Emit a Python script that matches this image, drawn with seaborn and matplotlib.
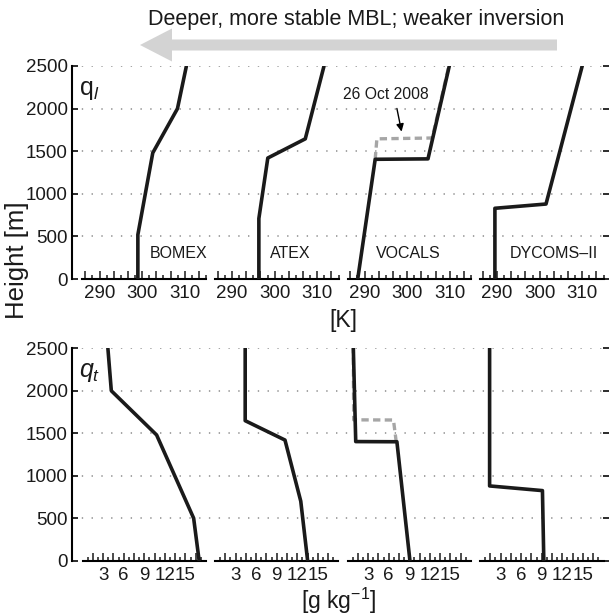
import numpy as np
import pandas as pd
import matplotlib
matplotlib.use("Agg")
import matplotlib.pyplot as plt
import seaborn as sns
from matplotlib.patches import FancyArrow
from matplotlib.ticker import FixedLocator, FuncFormatter

# ---------------- data ----------------
cases = ["BOMEX", "ATEX", "VOCALS", "DYCOMS\u2013II"]
height_ticks = [0, 500, 1000, 1500, 2000, 2500]
thl_ticks = [290, 300, 310]
qt_ticks = [3, 6, 9, 12, 15]

# liquid-water potential temperature profiles [K]
bomex_thl_z = [0, 520, 1480, 2000, 2500]
bomex_thl = [299.0, 299.0, 302.5, 308.3, 310.4]
atex_thl_z = [0, 710, 1420, 1645, 2500]
atex_thl = [296.3, 296.3, 298.4, 307.2, 311.6]
vocals_thl_z = [0, 1405, 1410, 2500]
vocals_thl = [288.4, 292.5, 304.9, 309.9]
vocals_oct_thl_z = [1405, 1645, 1655, 2500]
vocals_oct_thl = [292.5, 292.9, 305.9, 309.8]
dycoms_thl_z = [0, 830, 880, 2500]
dycoms_thl = [289.5, 289.5, 301.5, 310.0]

# total water profiles [g/kg]
bomex_qt_z = [0, 500, 1480, 2000, 2500]
bomex_qt = [17.0, 16.2, 10.8, 4.2, 3.7]
atex_qt_z = [0, 700, 1420, 1648, 2500]
atex_qt = [13.5, 12.5, 10.2, 4.4, 4.4]
vocals_qt_z = [0, 1400, 1402, 2500]
vocals_qt = [9.1, 7.2, 1.2, 0.85]
vocals_oct_qt_z = [1400, 1656, 1658, 2500]
vocals_oct_qt = [7.1, 6.7, 0.9, 0.85]
dycoms_qt_z = [0, 825, 880, 2500]
dycoms_qt = [9.3, 9.1, 1.4, 1.4]

thl_profiles = [(bomex_thl, bomex_thl_z), (atex_thl, atex_thl_z),
                (vocals_thl, vocals_thl_z), (dycoms_thl, dycoms_thl_z)]
qt_profiles = [(bomex_qt, bomex_qt_z), (atex_qt, atex_qt_z),
               (vocals_qt, vocals_qt_z), (dycoms_qt, dycoms_qt_z)]

# ---------------- style ----------------
sns.set_style("white")
plt.rcParams["font.family"] = ["Liberation Sans", "DejaVu Sans"]
plt.rcParams["mathtext.fontset"] = "custom"
plt.rcParams["mathtext.rm"] = "Liberation Sans"
plt.rcParams["mathtext.it"] = "Liberation Sans:italic"

W, H = 611, 615
fig = plt.figure(figsize=(W / 100, H / 100), dpi=100)


def fx(px):
    return px / W


def fy(py):
    return 1 - py / H


panel_left = [82.5, 215, 347.5, 480]
panel_w = 123.5
rows = [(66, 279), (348.3, 560.7)]  # top px, bottom px
grid_color = "#8c8c8c"
tick_fs = 13.5


def background(top, bottom):
    ax = fig.add_axes([fx(72), fy(bottom), fx(609) - fx(72), fy(top) - fy(bottom)])
    ax.set_facecolor("none")
    ax.set_ylim(0, 2500)
    ax.set_xlim(0, 1)
    ax.set_yticks(height_ticks)
    ax.set_xticks([])
    for s in ["top", "bottom", "right"]:
        ax.spines[s].set_visible(False)
    ax.spines["left"].set_linewidth(1.5)
    ax.spines["left"].set_color("k")
    ax.tick_params(axis="y", which="both", direction="in", length=4, width=1.3,
                   labelsize=tick_fs, pad=3, right=True, left=True, colors="#1a1a1a")
    for h in height_ticks[1:]:
        ax.axhline(h, color=grid_color, lw=1.1, ls=(0, (0.9, 5.5)), zorder=0)
    return ax


def panel(left, top, bottom, xlim, majors, minors, labels):
    ax = fig.add_axes([fx(left), fy(bottom), panel_w / W, fy(top) - fy(bottom)])
    ax.set_facecolor("none")
    ax.set_xlim(*xlim)
    ax.set_ylim(0, 2500)
    for s in ["top", "left", "right"]:
        ax.spines[s].set_visible(False)
    ax.spines["bottom"].set_linewidth(1.5)
    ax.spines["bottom"].set_color("k")
    ax.set_yticks([])
    ax.xaxis.set_major_locator(FixedLocator(majors))
    ax.xaxis.set_minor_locator(FixedLocator(minors))
    ax.xaxis.set_major_formatter(FuncFormatter(
        lambda v, p: (f"{v:.0f}" if any(abs(v - l) < 1e-6 for l in labels) else "")))
    ax.tick_params(axis="x", which="both", bottom=True, top=False)
    ax.tick_params(axis="x", which="major", direction="in", length=6, width=1.1,
                   labelsize=tick_fs, pad=4.5, colors="#1a1a1a")
    ax.tick_params(axis="x", which="minor", direction="in", length=3, width=1.1, colors="#1a1a1a")
    return ax


bg_top = background(*rows[0])
bg_bot = background(*rows[1])

thl_major = [290 + k * 10 / 3 for k in range(-1, 8) if 286 <= 290 + k * 10 / 3 <= 315]
thl_minor = [290 + 5 / 3 + k * 10 / 3 for k in range(-2, 8) if 286 <= 290 + 5 / 3 + k * 10 / 3 <= 315]
qt_major = [1.5 * k for k in range(1, 12)]
qt_minor = [0.75 + 1.5 * k for k in range(0, 12) if 0.75 + 1.5 * k < 18]

top_axes, bot_axes = [], []
for i in range(4):
    a = panel(panel_left[i], *rows[0], (286, 315), thl_major, thl_minor, thl_ticks)
    b = panel(panel_left[i], *rows[1], (0, 18), qt_major, qt_minor, qt_ticks)
    top_axes.append(a)
    bot_axes.append(b)
    sns.lineplot(x=thl_profiles[i][0], y=thl_profiles[i][1], orient="y", sort=False,
                 estimator=None, color="#1a1a1a", lw=2.6, ax=a, zorder=3)
    sns.lineplot(x=qt_profiles[i][0], y=qt_profiles[i][1], orient="y", sort=False,
                 estimator=None, color="#1a1a1a", lw=2.6, ax=b, zorder=3)

# 26 Oct 2008 VOCALS profiles (dashed grey)
sns.lineplot(x=vocals_oct_thl, y=vocals_oct_thl_z, orient="y", sort=False, estimator=None,
             color="#a6a6a6", lw=2.4, ls=(0, (2.2, 1.3)), ax=top_axes[2], zorder=2)
sns.lineplot(x=vocals_oct_qt, y=vocals_oct_qt_z, orient="y", sort=False, estimator=None,
             color="#a6a6a6", lw=2.4, ls=(0, (2.2, 1.3)), ax=bot_axes[2], zorder=2)
for a in top_axes + bot_axes:
    a.set_xlabel("")
    a.set_ylabel("")

# case names
name_pos = [301.7, 299.0, 292.6, 293.0]
for i, a in enumerate(top_axes):
    a.text(name_pos[i], 305, cases[i], fontsize=11.5, ha="left", va="center", color="#1a1a1a")

top_axes[2].annotate("26 Oct 2008", xy=(298.7, 1730), xytext=(294.9, 2160),
                     fontsize=11.3, ha="center", va="center", color="#1a1a1a",
                     arrowprops=dict(arrowstyle="-|>", color="k", lw=1.0,
                                     mutation_scale=11, relpos=(0.62, 0.0),
                                     shrinkA=2, shrinkB=0))

# overlay for free text and the big arrow
ov = fig.add_axes([0, 0, 1, 1])
ov.set_xlim(0, W)
ov.set_ylim(H, 0)
ov.axis("off")
ov.set_facecolor("none")
ov.add_patch(FancyArrow(557, 45, -417, 0, width=11, head_width=33, head_length=32,
                        length_includes_head=True, color="#d3d3d3", lw=0))
ov.text(356, 20, "Deeper, more stable MBL; weaker inversion", fontsize=15.5,
        ha="center", va="center", color="#1a1a1a")
ov.text(17, 260, "Height [m]", fontsize=18.5, rotation=90, ha="center", va="center",
        color="#1a1a1a")
ov.text(343, 320, "[K]", fontsize=16.5, ha="center", va="center", color="#1a1a1a")
ov.text(339, 601, "[g kg$^{-1}$]", fontsize=16.5, ha="center", va="center", color="#1a1a1a")
ov.text(79, 90, "q$_{l}$", fontsize=18, ha="left", va="center", color="#1a1a1a")
ov.text(79, 372, "$q_t$", fontsize=18, ha="left", va="center", color="#1a1a1a")

fig.savefig("out.png", dpi=100)
